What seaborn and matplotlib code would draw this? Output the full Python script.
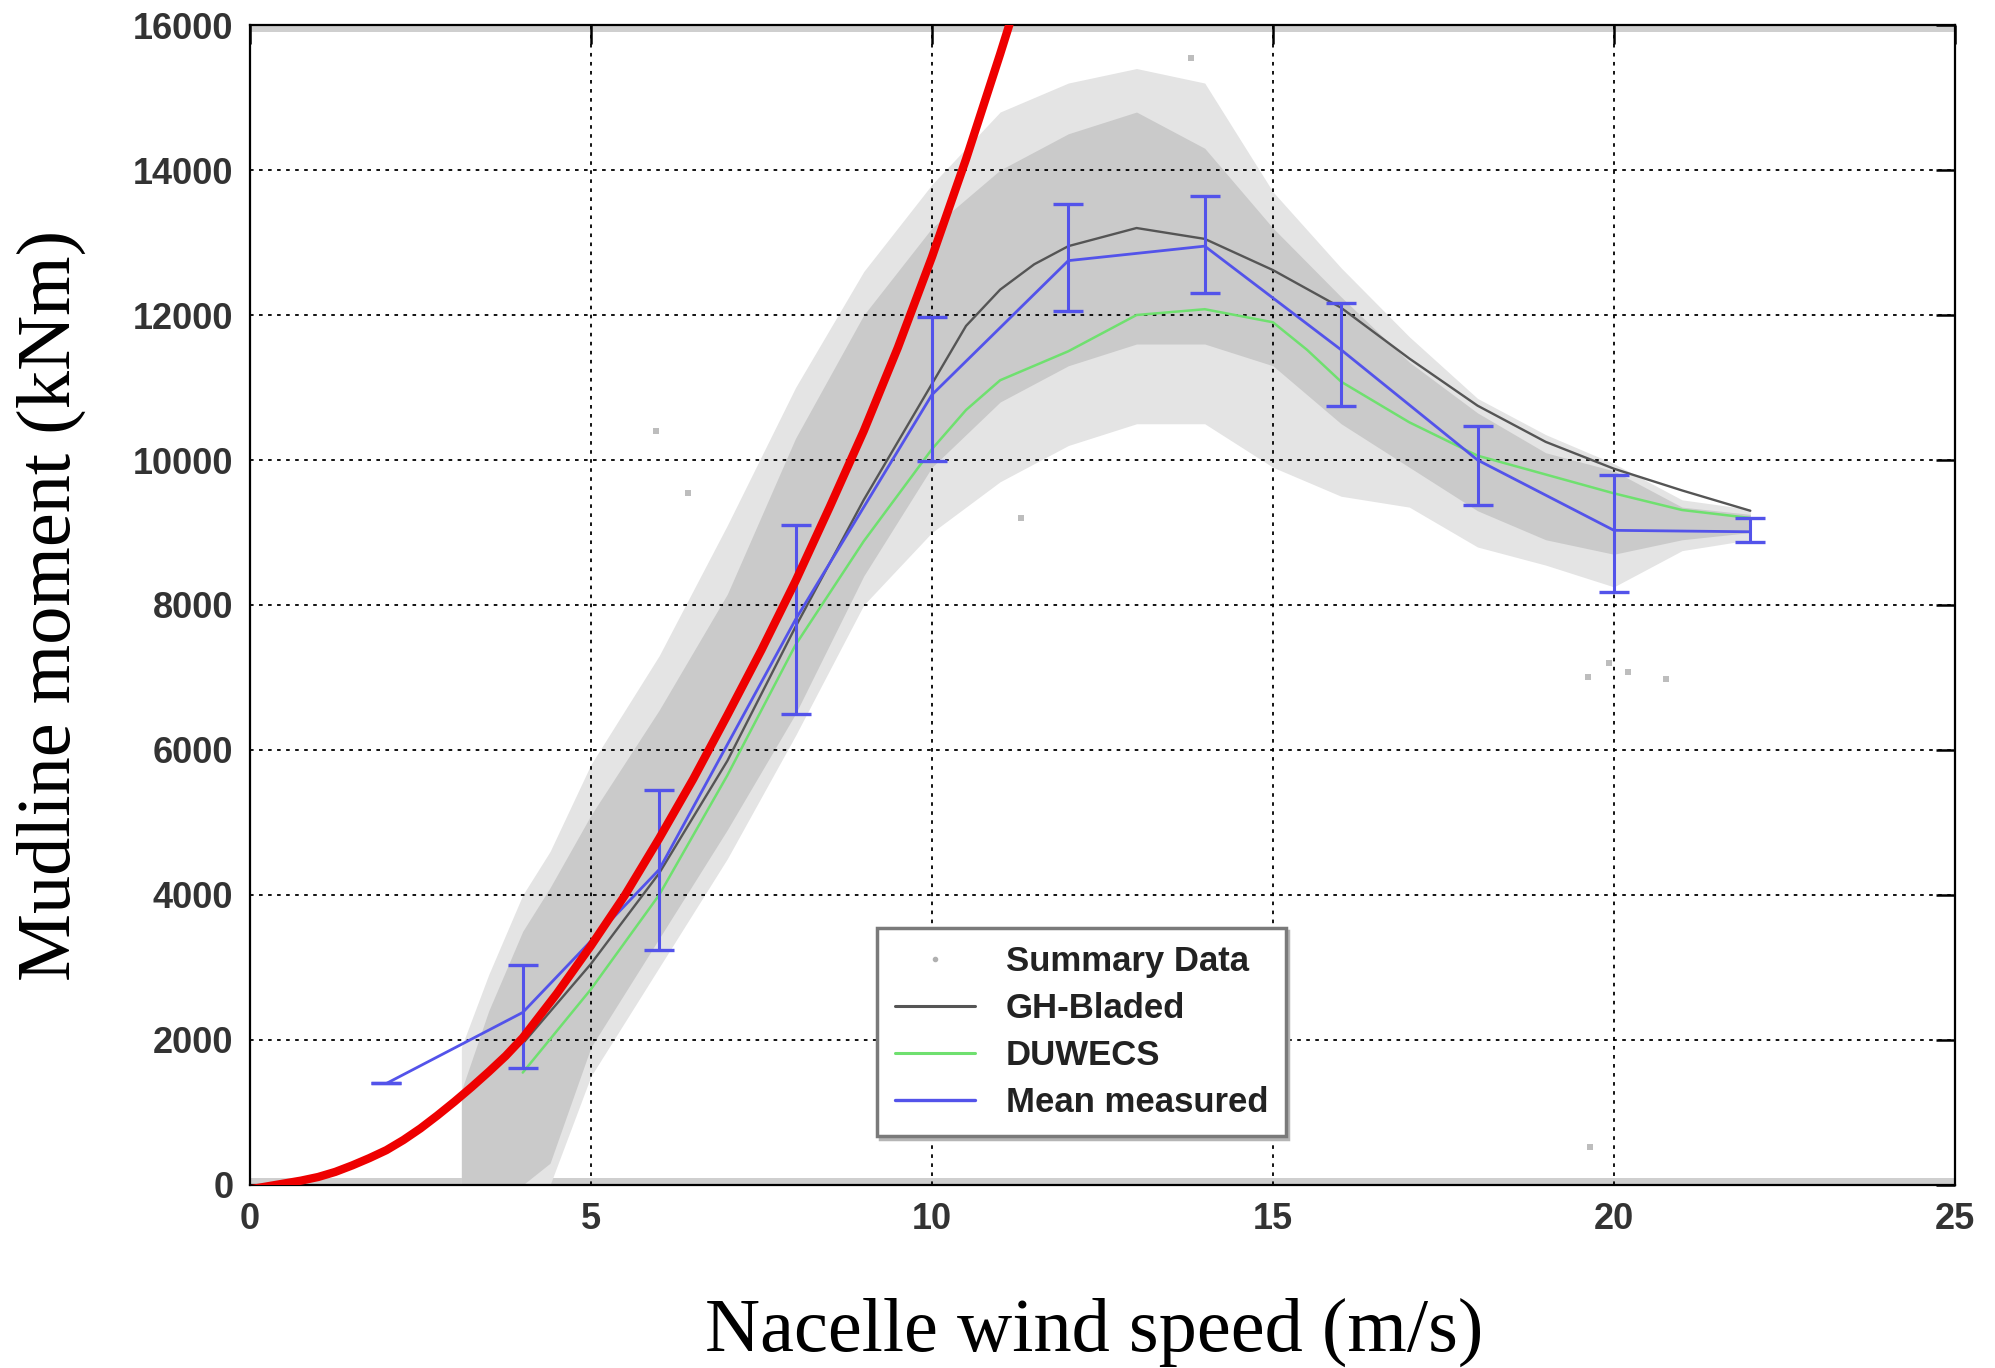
import matplotlib
matplotlib.use("Agg")
import matplotlib.pyplot as plt
from matplotlib.lines import Line2D
import pandas as pd
import seaborn as sns

# ---- values ----
# summary-data cloud envelope (dense core and sparse halo)
cloud_ws = [3.1, 3.5, 4.0, 4.4, 5, 6, 7, 8, 9, 10, 11, 12, 13, 14, 15, 16, 17, 18, 19, 20, 21, 22]
dense_lo = [0, 0, 0, 300, 1900, 3400, 4900, 6500, 8400, 9900, 10800, 11300, 11600, 11600, 11300, 10500,
            9900, 9300, 8900, 8700, 8900, 9000]
dense_hi = [1300, 2400, 3500, 4100, 5100, 6550, 8150, 10300, 12000, 13200, 14000, 14500, 14800, 14300,
            13200, 12250, 11350, 10650, 10100, 9850, 9350, 9250]
halo_lo = [0, 0, 0, 0, 1500, 3000, 4500, 6200, 8000, 9000, 9700, 10200, 10500, 10500, 9900, 9500,
           9350, 8800, 8550, 8250, 8750, 8900]
halo_hi = [1900, 2900, 4000, 4600, 5800, 7300, 9100, 11000, 12600, 13800, 14800, 15200, 15400, 15200,
           13700, 12650, 11700, 10850, 10350, 9950, 9450, 9320]

# stray summary points away from the cloud
stray_ws = [5.96, 6.43, 11.3, 13.8, 19.62, 19.93, 20.2, 20.77, 19.65]
stray_m = [10400, 9550, 9200, 15550, 7000, 7200, 7080, 6980, 530]

# GH-Bladed simulation
gh_ws = [4, 5, 6, 7, 8, 9, 10, 10.5, 11, 11.5, 12, 13, 14, 15, 16, 17, 18, 19, 20, 21, 22]
gh_m = [1950, 3050, 4300, 5850, 7700, 9450, 11050, 11850, 12350, 12700, 12950, 13200, 13050, 12620,
        12100, 11400, 10750, 10250, 9880, 9580, 9300]

# DUWECS simulation
du_ws = [4, 5, 6, 7, 8, 9, 10, 10.5, 11, 12, 13, 14, 15, 15.5, 16, 17, 18, 19, 20, 21, 22]
du_m = [1550, 2700, 4000, 5650, 7450, 8880, 10150, 10690, 11100, 11500, 12000, 12080, 11900, 11520,
        11080, 10520, 10060, 9800, 9540, 9310, 9200]

# mean measured with error bars
mean_ws = [2, 4, 6, 8, 10, 12, 14, 16, 18, 20, 22]
mean_m = [1400, 2380, 4350, 7800, 10900, 12750, 12950, 11520, 10000, 9030, 9010]
mean_lo = [1400, 1620, 3240, 6490, 9990, 12050, 12310, 10740, 9380, 8180, 8870]
mean_hi = [1400, 3030, 5450, 9100, 11970, 13530, 13640, 12170, 10470, 9790, 9200]

# red overlay curve
red_ws = [0, 0.5, 0.75, 1, 1.25, 1.5, 1.75, 2, 2.25, 2.5, 2.75, 3, 3.25, 3.5, 3.75, 4, 4.5, 5, 5.5,
          6, 6.5, 7, 7.5, 8, 8.5, 9, 9.5, 10, 10.5, 11, 11.3]
red_m = [-60, 20, 60, 110, 180, 270, 370, 480, 620, 780, 960, 1150, 1350, 1560, 1780, 2030, 2640,
         3300, 4000, 4780, 5600, 6480, 7380, 8330, 9350, 10400, 11550, 12800, 14150, 15600, 16500]

x_ticks = [0, 5, 10, 15, 20, 25]
y_ticks = [0, 2000, 4000, 6000, 8000, 10000, 12000, 14000, 16000]

sns.set_theme(style="white")
plt.rcParams["font.family"] = ["Liberation Sans", "DejaVu Sans"]
serif = ["Liberation Serif", "DejaVu Serif"]

fig = plt.figure(figsize=(19.95, 13.68), dpi=100)
ax = fig.add_axes([0.1253, 0.1338, 0.8546, 0.8479])

# grey stripes just inside the bottom and top of the box
ax.axhspan(0, 90, color="#cfcfcf", lw=0, zorder=0.5)
ax.axhspan(15900, 16000, color="#cfcfcf", lw=0, zorder=0.5)

ax.fill_between(cloud_ws, halo_lo, halo_hi, color="#e4e4e4", lw=0, zorder=1)
ax.fill_between(cloud_ws, dense_lo, dense_hi, color="#cacaca", lw=0, zorder=1.2)
sns.scatterplot(x=stray_ws, y=stray_m, ax=ax, color="#bdbdbd", marker="s", s=18, linewidth=0,
                zorder=1.3, legend=False)

sns.lineplot(x=gh_ws, y=gh_m, ax=ax, color="#555555", lw=1.7, sort=False, zorder=4)
sns.lineplot(x=du_ws, y=du_m, ax=ax, color="#6fe06f", lw=1.8, sort=False, zorder=4)

mean_df = pd.DataFrame({"ws": mean_ws, "m": mean_m, "lo": mean_lo, "hi": mean_hi})
sns.lineplot(data=mean_df, x="ws", y="m", ax=ax, color="#5353ea", lw=2.0, sort=False, zorder=5)
ax.errorbar(mean_df["ws"], mean_df["m"],
            yerr=[mean_df["m"] - mean_df["lo"], mean_df["hi"] - mean_df["m"]],
            fmt="none", ecolor="#5353ea", elinewidth=2.2, capsize=11, capthick=2.4, zorder=5)

sns.lineplot(x=red_ws, y=red_m, ax=ax, color="#ee0000", lw=6, sort=False, zorder=6,
             solid_joinstyle="round", solid_capstyle="round")

ax.set_xlim(0, 25)
ax.set_ylim(0, 16000)
ax.set_xticks(x_ticks)
ax.set_yticks(y_ticks)
ax.set_xticklabels([str(v) for v in x_ticks])
ax.set_yticklabels([str(v) for v in y_ticks])
ax.tick_params(direction="in", length=14, width=1.8, top=True, right=True, labelsize=26,
               pad=12, labelcolor="#333333", color="black")
for lab in ax.get_xticklabels() + ax.get_yticklabels():
    lab.set_fontweight("bold")

ax.grid(True, color="black", linestyle=(0, (2, 3)), linewidth=1.3)
ax.set_axisbelow(False)
for sp in ax.spines.values():
    sp.set_color("black")
    sp.set_linewidth(1.6)

ax.set_xlabel("Nacelle wind speed (m/s)", fontsize=55, family=serif, color="black")
ax.set_ylabel("Mudline moment (kNm)", fontsize=55, family=serif, color="black")
ax.xaxis.set_label_coords(0.495, -0.097)
ax.yaxis.set_label_coords(-0.096, 0.5)

handles = [
    Line2D([], [], ls="none", marker=".", ms=6, color="#b0b0b0"),
    Line2D([], [], color="#555555", lw=2.2),
    Line2D([], [], color="#6fe06f", lw=2.2),
    Line2D([], [], color="#5353ea", lw=2.4),
]
labels = ["Summary Data", "GH-Bladed", "DUWECS", "Mean measured"]
leg = ax.legend(handles, labels, loc="lower left", bbox_to_anchor=(0.368, 0.042), borderaxespad=0,
                fontsize=25, frameon=True, fancybox=False, handlelength=2.3, handletextpad=0.9,
                labelspacing=0.4, borderpad=0.5,
                shadow={"color": "#b5b5b5", "alpha": 1})
leg.get_frame().set_edgecolor("#7a7a7a")
leg.get_frame().set_linewidth(2.5)
leg.set_zorder(10)
for t in leg.get_texts():
    t.set_fontweight("bold")
    t.set_color("#222222")

fig.savefig("out.png", dpi=100)
